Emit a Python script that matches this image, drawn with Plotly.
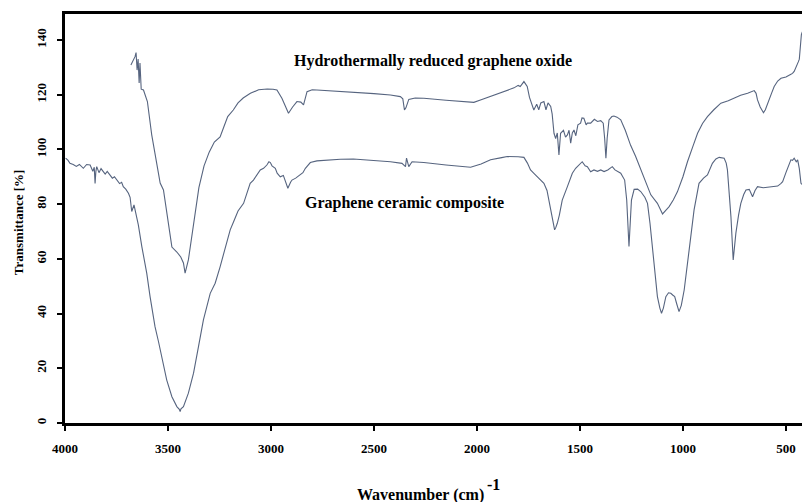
import plotly.graph_objects as go

# Hydrothermally reduced graphene oxide (upper trace)
hrgo_wn = [3680, 3670, 3660, 3655, 3650, 3645, 3640, 3636, 3630, 3619, 3600, 3579, 3554, 3538, 3522, 3506,
           3481, 3457, 3438, 3425, 3417, 3401, 3376, 3350, 3325, 3300, 3275, 3247, 3230, 3210, 3183, 3160,
           3135, 3100, 3060, 3018, 2990, 2971, 2947, 2930, 2915, 2895, 2874, 2855, 2842, 2825, 2800, 2777,
           2700, 2615, 2500, 2420, 2372, 2360, 2352, 2345, 2339, 2331, 2300, 2258, 2150, 2080, 2015, 1983,
           1930, 1880, 1853, 1820, 1800, 1790, 1772, 1765, 1756, 1745, 1735, 1724, 1710, 1700, 1690, 1675,
           1665, 1655, 1642, 1635, 1626, 1618, 1610, 1602, 1594, 1580, 1570, 1561, 1553, 1545, 1537, 1529,
           1520, 1510, 1497, 1490, 1481, 1470, 1464, 1448, 1430, 1415, 1399, 1387, 1380, 1374, 1368, 1359,
           1345, 1335, 1320, 1302, 1280, 1254, 1230, 1205, 1180, 1156, 1124, 1110, 1099, 1080, 1067, 1047,
           1027, 1000, 978, 950, 929, 905, 881, 850, 816, 780, 751, 720, 686, 665, 654, 645,
           638, 625, 616, 609, 600, 589, 570, 557, 540, 524, 500, 480, 468, 460, 452, 440,
           435, 430, 425, 420]
hrgo_t = [130.9, 132.5, 133.9, 135.4, 129.0, 133.0, 124.3, 131.6, 122.0, 121.7, 117.5, 105.3, 94.3, 87.7, 85.2, 76.8,
          64.3, 62.5, 60.7, 58.5, 54.8, 59.6, 71.7, 86.0, 94.0, 99.0, 102.7, 104.6, 108.0, 112.0, 114.4, 117.0,
          118.8, 120.5, 121.8, 122.1, 122.0, 121.7, 118.7, 115.5, 113.2, 115.5, 117.5, 117.3, 116.3, 121.1, 121.8, 121.7,
          121.4, 121.1, 120.4, 119.9, 119.3, 118.5, 114.4, 115.2, 116.9, 118.3, 118.8, 118.7, 118.0, 117.5, 117.2, 118.1,
          119.5, 121.0, 121.7, 122.5, 123.4, 123.0, 124.8, 124.0, 123.0, 119.0, 116.5, 114.4, 116.5, 114.5, 117.0, 117.5,
          114.5, 117.0, 115.7, 113.0, 105.9, 104.0, 106.0, 98.0, 105.9, 107.0, 104.5, 105.3, 107.0, 102.3, 106.0, 107.1,
          105.0, 109.0, 109.6, 111.5, 111.4, 109.0, 109.6, 109.6, 111.0, 110.2, 110.5, 109.6, 104.0, 96.8, 104.0, 110.8,
          112.0, 112.2, 111.8, 110.8, 107.0, 101.5, 97.5, 92.5, 87.5, 83.4, 80.3, 78.0, 76.4, 78.0, 79.1, 81.5,
          84.5, 90.0, 95.5, 101.5, 105.9, 109.5, 112.0, 114.5, 116.9, 117.8, 118.7, 119.8, 120.5, 121.3, 121.5, 120.5,
          118.1, 115.5, 114.0, 113.4, 114.5, 116.9, 120.5, 123.0, 125.0, 126.0, 126.5, 127.3, 127.8, 128.5, 129.7, 132.0,
          133.0, 139.0, 142.0, 143.0]

# Graphene ceramic composite (lower trace)
gcc_wn = [3997, 3985, 3976, 3960, 3945, 3930, 3911, 3895, 3878, 3865, 3858, 3854, 3850, 3846, 3835, 3825,
          3814, 3805, 3795, 3781, 3770, 3760, 3749, 3735, 3725, 3717, 3705, 3692, 3684, 3676, 3665, 3655,
          3644, 3627, 3603, 3587, 3563, 3546, 3522, 3506, 3481, 3457, 3445, 3441, 3437, 3425, 3401, 3376,
          3352, 3328, 3295, 3271, 3247, 3220, 3198, 3182, 3160, 3133, 3101, 3085, 3052, 3036, 3020, 3010,
          3003, 2995, 2979, 2970, 2955, 2940, 2930, 2918, 2905, 2898, 2880, 2858, 2845, 2833, 2809, 2777,
          2700, 2663, 2600, 2533, 2470, 2420, 2364, 2347, 2342, 2336, 2331, 2315, 2258, 2150, 2031, 1980,
          1934, 1880, 1853, 1800, 1772, 1755, 1740, 1720, 1707, 1690, 1675, 1660, 1651, 1634, 1623, 1617,
          1610, 1600, 1586, 1561, 1545, 1537, 1521, 1513, 1500, 1489, 1475, 1464, 1448, 1432, 1415, 1399,
          1383, 1365, 1343, 1330, 1302, 1290, 1283, 1273, 1262, 1250, 1237, 1220, 1205, 1185, 1172, 1160,
          1148, 1136, 1124, 1112, 1104, 1095, 1083, 1070, 1059, 1050, 1040, 1030, 1019, 1008, 994, 970,
          946, 922, 900, 881, 857, 840, 824, 800, 790, 784, 775, 767, 756, 750, 743, 730,
          719, 705, 694, 678, 668, 662, 650, 638, 610, 589, 560, 540, 525, 516, 500, 476,
          468, 460, 450, 443, 435, 427, 418]
gcc_t = [96.8, 96.0, 94.9, 94.5, 93.8, 94.5, 93.1, 94.5, 94.3, 92.0, 93.5, 87.6, 92.0, 93.7, 91.5, 93.0,
         91.9, 91.0, 92.0, 90.7, 89.5, 90.0, 88.8, 87.5, 88.0, 86.4, 85.5, 84.0, 82.5, 77.3, 79.7, 76.0,
         72.4, 64.5, 54.7, 46.2, 35.2, 29.7, 20.6, 15.7, 9.6, 6.0, 5.0, 4.2, 5.2, 6.0, 10.9, 18.2,
         27.9, 37.7, 47.4, 51.1, 57.1, 65.0, 70.6, 73.5, 77.5, 80.3, 87.6, 88.8, 92.5, 93.1, 94.3, 95.5,
         95.2, 94.0, 93.1, 91.3, 90.0, 90.5, 88.5, 85.8, 88.0, 88.8, 89.5, 90.7, 91.5, 93.1, 95.2, 95.8,
         96.3, 96.4, 96.5, 96.2, 95.8, 95.5, 94.9, 93.7, 96.8, 94.5, 93.7, 95.5, 95.2, 94.3, 93.5, 94.7,
         96.2, 97.0, 97.4, 97.3, 97.1, 95.0, 92.5, 91.0, 90.0, 88.5, 87.6, 85.0, 81.5, 74.2, 70.6, 71.5,
         73.0, 76.0, 81.5, 86.4, 90.0, 91.3, 93.1, 93.7, 94.5, 95.5, 94.0, 93.7, 91.8, 92.5, 92.0, 92.5,
         91.9, 92.5, 93.7, 92.5, 91.3, 90.0, 88.8, 81.5, 64.5, 81.5, 85.4, 85.5, 84.6, 82.5, 80.3, 73.0,
         63.2, 55.0, 46.2, 42.0, 40.1, 42.0, 46.2, 47.6, 47.4, 46.8, 46.2, 43.5, 40.7, 43.0, 48.6, 63.2,
         77.9, 87.6, 89.5, 90.7, 94.9, 96.5, 97.1, 96.8, 95.0, 92.5, 84.0, 75.4, 59.6, 64.0, 69.4, 76.0,
         80.3, 83.5, 85.2, 85.4, 84.0, 82.7, 85.0, 86.4, 86.0, 86.2, 86.3, 86.6, 87.5, 88.2, 91.5, 96.2,
         96.0, 96.8, 95.5, 96.2, 93.0, 87.6, 87.0]

x_ticks = [4000, 3500, 3000, 2500, 2000, 1500, 1000, 500]
y_ticks = [0, 20, 40, 60, 80, 100, 120, 140]

LINE = "#56647f"
SERIF = "Liberation Serif"

fig = go.Figure()
fig.add_trace(go.Scatter(x=hrgo_wn, y=hrgo_t, mode="lines",
                         line=dict(color=LINE, width=1.1), showlegend=False))
fig.add_trace(go.Scatter(x=gcc_wn, y=gcc_t, mode="lines",
                         line=dict(color=LINE, width=1.1), showlegend=False))

fig.update_layout(
    width=802, height=502,
    margin=dict(l=65, r=0, t=14, b=79),
    paper_bgcolor="white", plot_bgcolor="white",
    font=dict(family=SERIF, color="black"),
    xaxis=dict(range=[4000, 422], tickvals=x_ticks, ticktext=[str(v) for v in x_ticks],
               ticks="outside", ticklen=5, tickwidth=2, tickcolor="black",
               showline=True, linewidth=3, linecolor="black", mirror=True,
               showgrid=False, zeroline=False, ticklabelstandoff=6,
               tickfont=dict(family=SERIF, size=13, color="black", weight="bold")),
    yaxis=dict(range=[0, 149.5], tickvals=y_ticks, ticktext=[str(v) for v in y_ticks],
               ticks="outside", ticklen=5, tickwidth=2, tickcolor="black",
               showline=True, linewidth=3, linecolor="black",
               showgrid=False, zeroline=False, tickangle=-90, ticklabelstandoff=6,
               tickfont=dict(family=SERIF, size=13, color="black", weight="bold")),
)

fig.add_annotation(text="Hydrothermally reduced graphene oxide", xref="paper", yref="paper",
                   x=0.4993, y=0.885, showarrow=False, xanchor="center", yanchor="middle",
                   font=dict(family=SERIF, size=16, color="black", weight="bold"))
fig.add_annotation(text="Graphene ceramic composite", xref="paper", yref="paper",
                   x=0.46, y=0.538, showarrow=False, xanchor="center", yanchor="middle",
                   font=dict(family=SERIF, size=16, color="black", weight="bold"))
fig.add_annotation(text="Wavenumber (cm)", xref="paper", yref="paper",
                   x=0.483, y=-0.176, showarrow=False, xanchor="center", yanchor="middle",
                   font=dict(family=SERIF, size=16, color="black", weight="bold"))
fig.add_annotation(text="-1", xref="paper", yref="paper",
                   x=(493 - 65) / 737, y=(423 - 485) / 409, showarrow=False, xanchor="center", yanchor="middle",
                   font=dict(family=SERIF, size=16, color="black", weight="bold"))
fig.add_annotation(text="Transmittance [%]", xref="paper", yref="paper",
                   x=-0.0638, y=0.491, showarrow=False, textangle=-90, xanchor="center", yanchor="middle",
                   font=dict(family=SERIF, size=13, color="black", weight="bold"))

fig.write_html("out.html")
